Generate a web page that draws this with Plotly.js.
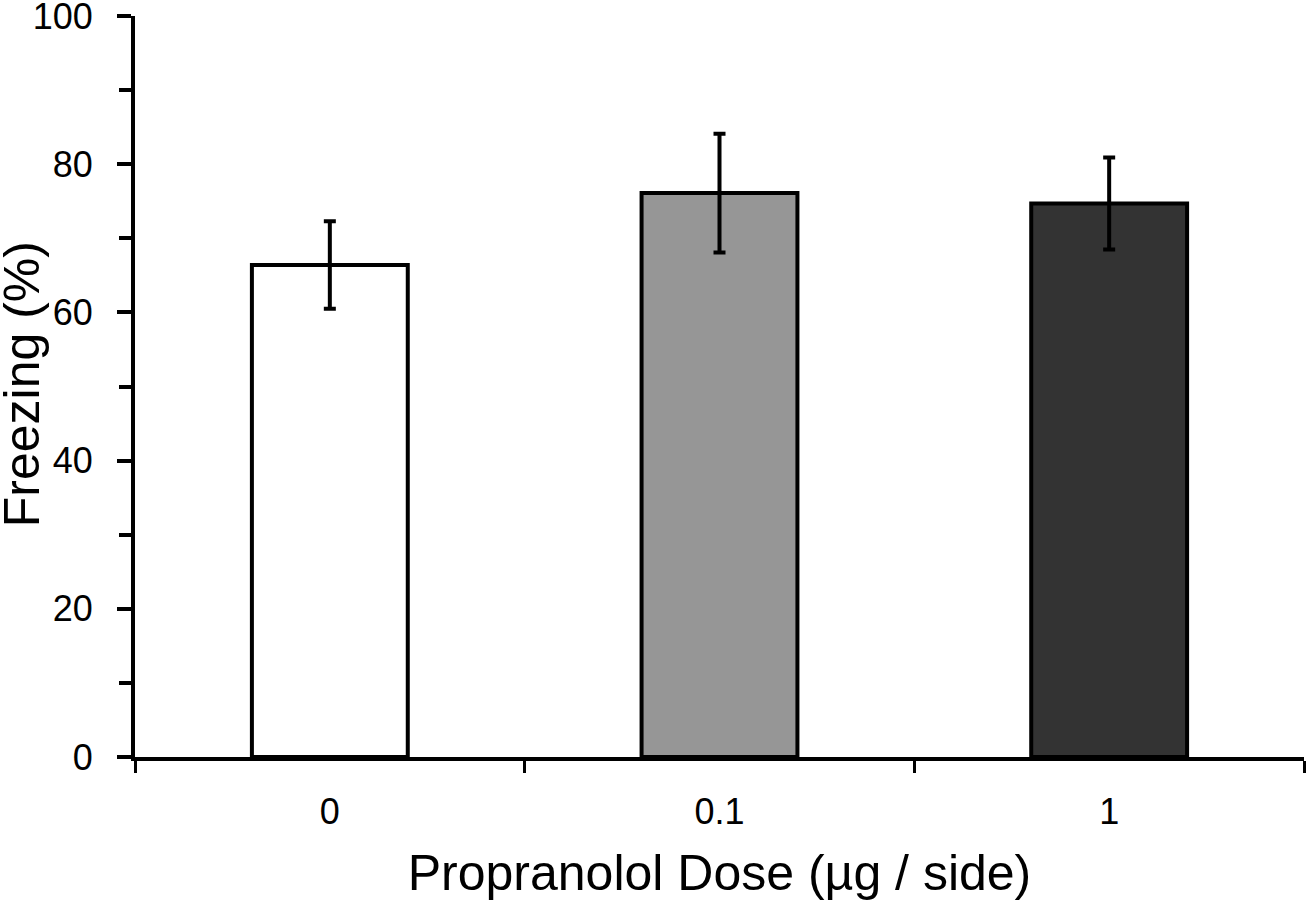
<!DOCTYPE html>
<html>
<head>
<meta charset="utf-8">
<script src="https://cdn.plot.ly/plotly-3.0.1.min.js"></script>
<style>
  html, body { margin: 0; padding: 0; background: #fff; }
  #myDiv { width: 1307px; height: 901px; }
</style>
</head>
<body>
<div id="myDiv"></div>
<script>
var doses = ['0', '0.1', '1'];
var freezing = [66.4, 76.1, 74.7];
var freezingSem = [5.9, 8.0, 6.2];
var barColors = ['#ffffff', '#969696', '#333333'];
var yTicks = [0, 20, 40, 60, 80, 100];

var trace = {
  x: doses,
  y: freezing,
  type: 'bar',
  width: 0.4,
  marker: {
    color: barColors,
    line: {color: '#000', width: 4}
  },
  error_y: {
    type: 'data',
    array: freezingSem,
    visible: true,
    color: '#000',
    thickness: 4,
    width: 6
  },
  hoverinfo: 'none'
};

var fontFam = 'Liberation Sans, Arial, sans-serif';

var layout = {
  width: 1307,
  height: 901,
  margin: {l: 135, r: 3, t: 16, b: 144},
  paper_bgcolor: '#fff',
  plot_bgcolor: '#fff',
  showlegend: false,
  font: {family: fontFam, color: '#000', size: 36},
  xaxis: {
    type: 'category',
    range: [-0.5, 2.5],
    showline: true,
    linecolor: '#000',
    linewidth: 4,
    showgrid: false,
    zeroline: false,
    ticks: 'outside',
    tickson: 'boundaries',
    ticklen: 12,
    tickwidth: 3,
    tickcolor: '#000',
    ticklabelstandoff: 20,
    tickfont: {size: 36},
    title: {text: 'Propranolol Dose (µg / side)', font: {size: 50}, standoff: 28},
    automargin: false
  },
  yaxis: {
    range: [0, 100],
    tickvals: yTicks,
    showline: true,
    linecolor: '#000',
    linewidth: 4,
    showgrid: false,
    zeroline: false,
    ticks: 'outside',
    ticklen: 14,
    tickwidth: 4,
    tickcolor: '#000',
    ticklabelstandoff: 17,
    ticklabeloverflow: 'allow',
    tickfont: {size: 36},
    minor: {dtick: 10, ticks: 'outside', ticklen: 12, tickwidth: 4, tickcolor: '#000', showgrid: false},
    automargin: false
  },
  // y title as an annotation so it can sit right at the left edge
  annotations: [{
    text: 'Freezing (%)',
    xref: 'paper', yref: 'paper',
    x: -113 / 1169, y: 0.503,
    xanchor: 'center', yanchor: 'middle',
    textangle: -90,
    showarrow: false,
    font: {size: 50, family: fontFam, color: '#000'}
  }]
};

Plotly.newPlot('myDiv', [trace], layout, {displayModeBar: false, staticPlot: true});
</script>
</body>
</html>
